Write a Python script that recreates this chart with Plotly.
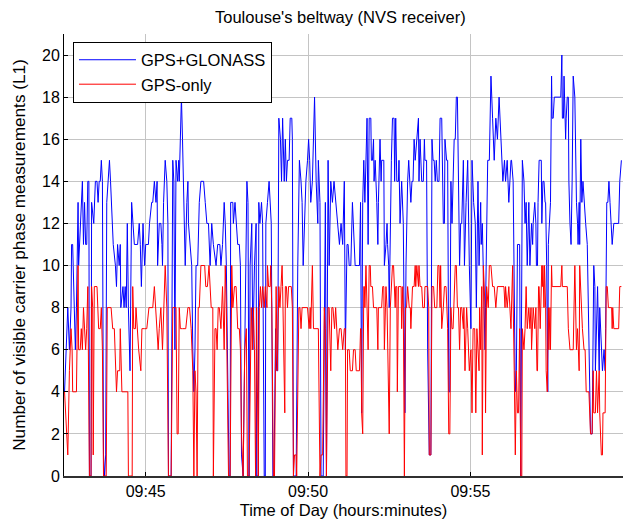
import pandas as pd
import plotly.graph_objects as go

# ---- data (seconds after 09:42:30, number of measurements) ----
start_time = "2014-06-01 09:42:30"

gps_glonass_t = [
    0, 3, 6, 9, 12, 13, 15, 16, 18, 20, 22, 25, 26, 28, 31, 33, 35, 37, 39, 41, 43, 45, 46, 49, 50, 54, 57, 60,
    62, 64, 66, 68, 70, 72, 74, 76, 78, 81, 83, 85, 87, 90, 94, 96, 98, 101, 103, 104, 108, 110, 112, 114, 116,
    118, 121, 124, 129, 135, 138, 140, 142, 145, 148, 150, 155, 157, 161, 163,
    166, 169, 171, 172, 175, 178, 180, 181, 183, 186, 189, 191, 192, 197, 200, 202, 204, 206, 209, 211, 212,
    214, 216, 218, 220, 223, 226, 228, 229, 232, 235, 237, 239, 241, 243, 246, 249, 252, 257, 260, 263, 266,
    269, 272, 275, 280, 283, 287, 289, 292, 295, 297, 299, 301, 304, 306, 307, 311, 312, 315, 317, 320, 323,
    325, 327, 330, 332, 337, 339, 341,
    343, 346, 348, 351, 354, 355, 358, 359, 361, 364, 366, 369, 371, 372, 375, 378, 382, 385, 387, 390, 392,
    394, 396, 399, 401, 403, 406, 408, 410, 412, 415, 417, 420, 421, 423, 428, 431, 434, 437, 439, 441, 446,
    449, 451, 453, 455, 458, 462, 465, 468, 469, 472, 474, 478, 482, 484, 487, 489, 492, 495, 498, 501, 505,
    508, 511, 514,
    517, 519, 522, 524, 526, 529, 532, 535, 537, 542, 545, 547, 549, 551, 553, 555, 557, 559, 561, 563, 566,
    567, 569, 571, 572, 574, 577, 579, 580, 583, 585, 586, 590, 591, 594, 596, 597, 599, 600, 602, 604, 606,
    609, 610, 612, 614, 617, 618, 620, 623, 625, 626, 629, 631, 634, 636, 638, 640, 642, 644, 646, 648, 651,
    654, 655, 657, 660, 663, 665, 666, 669, 671, 674, 677, 679, 681, 683, 685, 687, 689,
    692, 694, 697, 698, 700, 702, 703, 706, 708, 710, 712, 714, 716, 718, 720, 722, 724, 726, 728, 730, 732,
    734, 737, 739, 742, 745, 748, 751, 753, 756, 759, 761, 764, 766, 769, 770, 772, 774, 777, 778, 782, 785,
    788, 791, 794, 797, 800, 803, 806, 808, 810, 813, 815, 818, 821, 825, 826, 829, 833, 835, 837, 841, 843,
    846, 849, 851, 853, 855,
    858, 860, 861, 863, 865, 866, 869, 871, 872, 874, 875, 877, 881, 882, 884, 886, 888, 889, 891, 893, 894,
    897, 898, 900, 901, 903, 905, 917, 919, 920, 922, 923, 925, 926, 927, 929, 931, 932, 934, 936, 938, 940,
    943, 945, 946, 948, 949, 951, 952, 954, 956, 958, 960, 963, 966, 969, 972, 975, 978, 980, 981, 985, 988,
    989, 992, 994, 997, 999, 1000, 1002, 1004, 1006, 1008, 1010, 1012, 1015, 1024, 1026, 1029,
]
gps_glonass_n = [
    4, 6, 8, 6, 8, 11, 11, 10, 8, 6, 8, 13, 10, 11, 13, 14, 11, 13, 11, 11, 14, 14, 0, 0, 13, 12, 14, 14,
    13, 14, 14, 15, 14, 1, 0, 1, 13, 14, 15, 14, 13, 11, 10, 9, 11, 10, 11, 8, 9, 8, 9, 8, 12,
    8, 5, 13, 11, 11, 12, 11, 9, 12, 10, 11, 11, 12, 13, 13,
    14, 13, 14, 10, 12, 12, 11, 10, 13, 15, 14, 12, 0, 0, 15, 14, 6, 15, 14, 15, 14,
    17, 18, 16, 13, 10, 13, 14, 12, 11, 10, 6, 4, 6, 10, 10, 13, 14, 14, 13, 12, 12,
    10, 12, 11, 10, 11, 11, 10, 11, 13, 12, 10, 6, 0, 0, 13, 13, 12, 13, 12, 11, 11,
    10, 1, 0, 4, 14, 13, 0,
    10, 12, 6, 10, 12, 0, 0, 13, 12, 13, 12, 0, 0, 12, 13, 14, 12, 0, 0, 7, 5,
    5, 17, 16, 14, 17, 14, 16, 14, 15, 15, 17, 17, 16, 0, 0, 10, 15, 14, 13, 10, 14,
    15, 16, 15, 13, 14, 18, 14, 12, 15, 13, 0, 0, 13, 0, 15, 10, 14, 13, 14, 13, 12,
    11, 12, 11,
    14, 6, 11, 11, 10, 10, 13, 11, 10, 10, 10, 13, 3, 13, 15, 13, 15, 17, 11, 17, 17,
    15, 15, 16, 14, 15, 13, 11, 13, 16, 14, 15, 15, 10, 11, 12, 11, 10, 8, 12, 15, 17,
    17, 14, 17, 14, 14, 15, 12, 14, 12, 12, 3, 10, 14, 15, 14, 13, 14, 14, 16, 15, 16,
    17, 14, 16, 14, 14, 16, 15, 15, 6, 1, 1, 16, 15, 15, 14, 15, 14,
    14, 17, 17, 15, 12, 12, 16, 15, 15, 4, 4, 14, 12, 14, 16, 16, 18, 18, 15, 10, 12,
    12, 15, 10, 13, 15, 10, 7, 15, 13, 12, 8, 14, 10, 13, 11, 12, 10, 6, 8, 15, 15,
    19, 17, 15, 17, 16, 18, 16, 15, 14, 15, 14, 15, 13, 15, 15, 14, 4, 5, 11, 11, 0,
    15, 14, 12, 13, 10,
    13, 10, 11, 12, 11, 12, 13, 12, 10, 10, 13, 15, 15, 12, 14, 14, 13, 13, 10, 4, 11,
    13, 13, 19, 17, 17, 18, 18, 20, 17, 17, 19, 17, 16, 17, 18, 18, 14, 12, 11, 14, 19,
    18, 14, 13, 12, 11, 13, 11, 16, 13, 14, 13, 12, 11, 7, 2, 2, 10, 9, 5, 9, 5,
    8, 6, 5, 6, 5, 7, 13, 13, 14, 13, 12, 11, 12, 12, 14, 15,
]

gps_only_t = [
    0, 2, 3, 6, 9, 12, 14, 15, 22, 25, 26, 29, 31, 33, 35, 37, 39, 41, 43, 46, 49, 50, 52, 53, 55, 60, 63, 66,
    68, 70, 72, 77, 79, 86, 89, 92, 94, 96, 98, 102, 103, 106, 117, 118, 125, 126, 128, 131, 132, 134, 137,
    141, 143, 148, 152, 156, 163,
    166, 168, 171, 173, 175, 178, 181, 184, 186, 189, 191, 192, 197, 200, 203, 206, 208, 210, 212, 214, 218,
    224, 228, 231, 234, 237, 239, 241, 243, 245, 247, 249, 252, 255, 259, 261, 264, 267, 271, 274, 275, 278,
    280, 282, 284, 286, 289, 292, 295, 297, 299, 303, 306, 309, 311, 314, 317, 320, 323, 325, 327, 330, 332,
    333, 336, 338, 341,
    343, 345, 347, 349, 351, 353, 355, 358, 360, 362, 364, 366, 369, 371, 374, 375, 377, 380, 381, 383, 386,
    388, 391, 393, 396, 398, 400, 402, 403, 405, 407, 408, 410, 412, 414, 419, 421, 423, 425, 428, 429, 433,
    435, 437, 439, 449, 452, 454, 455, 458, 460, 469, 472, 474, 477, 480, 482, 484, 487, 489, 492, 494, 496,
    499, 501, 505, 508, 511, 514,
    517, 519, 520, 522, 523, 526, 528, 532, 534, 537, 539, 545, 547, 548, 549, 551, 553, 554, 555, 557, 559,
    561, 563, 565, 566, 569, 571, 577, 579, 580, 586, 588, 590, 591, 593, 594, 596, 598, 600, 602, 604, 606,
    608, 609, 611, 612, 614, 615, 617, 622, 623, 625, 626, 628, 630, 632, 634, 637, 639, 640, 642, 643, 646,
    648, 649, 651, 654, 655, 657, 660, 662, 665, 666, 671, 673, 674, 677, 679, 682, 684, 688, 690,
    692, 694, 695, 697, 700, 702, 705, 708, 710, 712, 714, 716, 718, 720, 722, 724, 726, 728, 730, 732, 734,
    737, 738, 740, 743, 745, 748, 751, 753, 755, 758, 760, 762, 764, 766, 767, 769, 771, 772, 774, 777, 778,
    780, 783, 785, 788, 791, 794, 797, 800, 809, 812, 814, 815, 818, 821, 825, 828, 831, 833, 835, 837, 839,
    841, 843, 845, 846, 849, 851, 853, 855,
    858, 860, 862, 863, 865, 866, 869, 871, 873, 874, 876, 877, 879, 881, 882, 883, 884, 886, 887, 889, 890,
    892, 894, 895, 897, 898, 900, 901, 917, 919, 920, 929, 931, 934, 940, 943, 945, 946, 948, 949, 951, 952,
    955, 957, 960, 962, 964, 969, 972, 975, 977, 978, 981, 983, 985, 988, 989, 992, 994, 995, 999, 1001,
    1003, 1005, 1011, 1012, 1013, 1015, 1024, 1026, 1029,
]
gps_only_n = [
    4, 3, 3, 1, 5, 7, 6, 4, 4, 10, 6, 6, 7, 6, 8, 7, 6, 7, 9, 0, 0, 9, 8, 1, 9, 9, 7, 7,
    8, 6, 0, 0, 8, 8, 7, 7, 5, 4, 5, 5, 7, 4, 4, 0, 0, 9, 7, 7, 8, 7, 6,
    5, 7, 7, 7, 8, 8,
    9, 8, 7, 6, 7, 8, 6, 8, 10, 8, 4, 0, 0, 8, 8, 8, 2, 2, 8, 7, 7,
    7, 8, 8, 7, 5, 0, 5, 4, 0, 8, 8, 10, 10, 10, 9, 9, 10, 8, 8, 0, 7,
    7, 6, 8, 8, 7, 9, 6, 10, 8, 0, 0, 10, 8, 9, 9, 7, 7, 6, 2, 0, 4,
    6, 7, 0, 0,
    6, 8, 6, 8, 6, 0, 8, 0, 8, 9, 8, 9, 8, 9, 8, 10, 9, 9, 10, 8, 0,
    0, 9, 5, 9, 8, 9, 10, 9, 6, 3, 9, 9, 8, 9, 9, 8, 0, 1, 1, 0, 8,
    8, 7, 8, 8, 7, 8, 7, 10, 7, 7, 0, 1, 1, 8, 7, 0, 8, 8, 5, 8, 8,
    7, 8, 6, 7, 7, 6,
    7, 7, 0, 0, 6, 6, 5, 5, 6, 6, 5, 5, 7, 7, 3, 2, 9, 9, 8, 10, 8,
    6, 10, 10, 9, 9, 8, 8, 6, 8, 8, 9, 9, 6, 8, 9, 8, 4, 2, 8, 9, 10,
    10, 9, 8, 9, 9, 4, 9, 9, 7, 9, 8, 0, 8, 8, 9, 8, 8, 7, 8, 9, 9,
    10, 9, 10, 9, 10, 9, 9, 8, 8, 9, 9, 8, 1, 1, 9, 9, 8, 8, 10,
    10, 8, 10, 7, 8, 9, 9, 7, 2, 2, 8, 7, 7, 9, 10, 10, 8, 8, 6, 8, 8,
    7, 8, 5, 8, 7, 5, 6, 3, 7, 7, 3, 7, 6, 5, 8, 6, 9, 1, 10, 8, 3,
    9, 8, 10, 10, 9, 9, 8, 9, 9, 9, 8, 9, 8, 9, 7, 10, 5, 1, 5, 3, 3,
    7, 0, 0, 7, 6, 7, 9, 7,
    8, 7, 8, 6, 7, 8, 7, 8, 5, 5, 9, 9, 7, 9, 10, 9, 10, 8, 10, 8, 5,
    4, 8, 6, 8, 6, 10, 9, 9, 10, 9, 9, 7, 6, 6, 10, 7, 6, 7, 6, 5, 10,
    8, 7, 6, 6, 4, 4, 2, 2, 5, 3, 3, 5, 3, 5, 3, 1, 1, 3, 3, 9,
    9, 8, 8, 7, 8, 7, 7, 9, 9,
]

series_names = ["GPS+GLONASS", "GPS-only"]
x_tick_times = ["09:45", "09:50", "09:55"]
y_ticks = list(range(0, 21, 2))

# ---- build ----
base = pd.Timestamp(start_time)
day = start_time.split(" ")[0]


def to_time(seconds):
    return base + pd.to_timedelta(seconds, unit="s")


fig = go.Figure()
fig.add_trace(go.Scatter(
    x=to_time(gps_glonass_t), y=gps_glonass_n, mode="lines", name=series_names[0],
    line=dict(color="#0000ff", width=1),
))
fig.add_trace(go.Scatter(
    x=to_time(gps_only_t), y=gps_only_n, mode="lines", name=series_names[1],
    line=dict(color="#ff0000", width=1),
))

font_family = "Liberation Sans, Arial, sans-serif"
tick_vals = [pd.Timestamp(f"{day} {hm}:00") for hm in x_tick_times]
x_range = [to_time(-1), to_time(1032)]

# the page body adds an 8px margin, so the figure is sized to fit the 634x525 window
fig.update_layout(
    width=626, height=517,
    margin=dict(l=56, r=11, t=26, b=49),
    paper_bgcolor="white", plot_bgcolor="white",
    font=dict(family=font_family, size=16, color="black"),
    title=dict(text="Toulouse's beltway (NVS receiver)", x=0.531, xanchor="center",
               y=1 - 9 / 517, yanchor="middle", font=dict(size=16.5)),
    showlegend=True,
    legend=dict(
        x=0.0161, y=0.983, xanchor="left", yanchor="top",
        bgcolor="white", bordercolor="black", borderwidth=1,
        font=dict(size=16.5), itemwidth=57,
    ),
    xaxis=dict(
        type="date", range=x_range, tickvals=tick_vals, ticktext=x_tick_times,
        showgrid=True, gridcolor="#c4c4c4", gridwidth=1,
        showline=True, linecolor="#303030", linewidth=2,
        ticks="inside", ticklen=4, tickcolor="black",
        tickfont=dict(size=16),
        title=dict(text="Time of Day (hours:minutes)", standoff=5, font=dict(size=16.5)),
        zeroline=False, automargin=False,
    ),
    yaxis=dict(
        range=[0, 21], tickvals=y_ticks,
        showgrid=True, gridcolor="#c4c4c4", gridwidth=1,
        showline=True, linecolor="black", linewidth=1,
        ticks="inside", ticklen=4, tickcolor="black",
        tickfont=dict(size=16),
        title=dict(text="Number of visible carrier phase measurements (L1)", standoff=11,
                   font=dict(size=17.2)),
        zeroline=False, automargin=False,
    ),
    xaxis2=dict(
        type="date", overlaying="x", side="top", matches="x", range=x_range,
        tickvals=tick_vals, showticklabels=False, showgrid=False, showline=False,
        ticks="inside", ticklen=4, tickcolor="black", zeroline=False,
    ),
    yaxis2=dict(
        overlaying="y", side="right", matches="y", range=[0, 21], tickvals=y_ticks,
        showticklabels=False, showgrid=False, showline=False,
        ticks="inside", ticklen=4, tickcolor="black", zeroline=False,
    ),
)

fig.write_html("out.html")
